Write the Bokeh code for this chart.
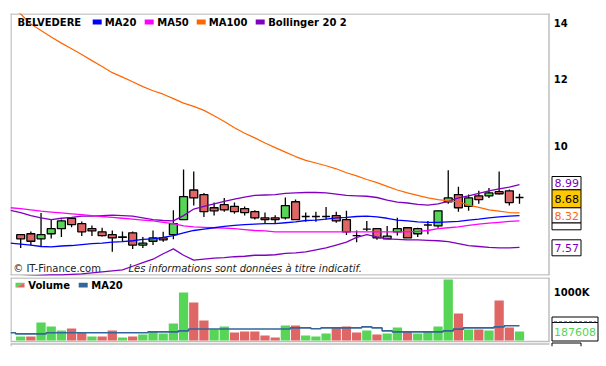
from bokeh.plotting import figure
from bokeh.layouts import column
from bokeh.models import Range1d, LinearScale
from bokeh.core.properties import value
from bokeh.embed import file_html
from bokeh.resources import INLINE

# ---------------- data ----------------
TITLE = "BELVEDERE"
opens = [7.84, 7.86, 7.75, 7.86, 7.97, 8.20, 8.08, 7.97, 7.90, 7.84,
         7.79, 7.88, 7.62, 7.70, 7.77, 7.84, 8.17, 8.86, 8.75, 8.44,
         8.51, 8.47, 8.42, 8.35, 8.21, 8.21, 8.21, 8.58, 8.24, 8.24,
         8.24, 8.26, 8.17, 7.82, 7.96, 7.97, 7.75, 7.90, 7.99, 7.86,
         8.05, 8.03, 8.58, 8.75, 8.47, 8.72, 8.72, 8.82, 8.84, 8.68]
highs = [7.85, 7.91, 8.32, 8.17, 8.17, 8.21, 8.13, 8.04, 7.99, 7.93,
         7.91, 7.91, 7.79, 7.93, 7.90, 8.38, 9.37, 9.32, 8.79, 8.56,
         8.67, 8.56, 8.47, 8.38, 8.33, 8.27, 8.68, 8.63, 8.33, 8.35,
         8.46, 8.35, 8.37, 7.93, 8.14, 7.97, 8.03, 8.21, 7.99, 7.99,
         8.14, 8.37, 9.35, 8.94, 8.75, 8.84, 8.91, 9.32, 8.87, 8.77]
lows = [7.56, 7.61, 7.58, 7.76, 7.79, 8.00, 7.81, 7.81, 7.80, 7.48,
        7.69, 7.54, 7.56, 7.62, 7.69, 7.74, 8.17, 8.49, 8.23, 8.26,
        8.35, 8.30, 8.26, 8.17, 8.08, 8.08, 8.17, 8.17, 8.12, 8.12,
        8.17, 8.10, 7.83, 7.68, 7.92, 7.73, 7.75, 7.82, 7.77, 7.79,
        7.85, 7.99, 8.53, 8.35, 8.37, 8.53, 8.67, 8.75, 8.49, 8.53]
closes = [7.75, 7.70, 7.84, 7.97, 8.14, 8.06, 7.90, 7.92, 7.82, 7.77,
          7.78, 7.62, 7.66, 7.77, 7.73, 8.08, 8.70, 8.67, 8.35, 8.37,
          8.39, 8.35, 8.33, 8.21, 8.17, 8.17, 8.49, 8.17, 8.24, 8.24,
          8.24, 8.14, 7.90, 7.82, 7.96, 7.77, 7.81, 7.97, 7.77, 7.97,
          8.05, 8.37, 8.67, 8.44, 8.67, 8.63, 8.79, 8.77, 8.56, 8.68]

# indicator series start one session before the first visible candle
ma20 = [7.66, 7.64, 7.62, 7.59, 7.58, 7.60, 7.61, 7.63, 7.65, 7.66,
        7.68, 7.69, 7.71, 7.74, 7.75, 7.78, 7.82, 7.88, 7.93, 7.96,
        7.99, 8.02, 8.04, 8.06, 8.07, 8.08, 8.08, 8.10, 8.12, 8.15,
        8.16, 8.18, 8.21, 8.22, 8.24, 8.25, 8.23, 8.20, 8.16, 8.14,
        8.12, 8.11, 8.11, 8.12, 8.13, 8.16, 8.18, 8.21, 8.23, 8.25, 8.26]
ma50 = [8.44, 8.42, 8.39, 8.36, 8.34, 8.32, 8.30, 8.28, 8.26, 8.24,
        8.22, 8.20, 8.18, 8.16, 8.14, 8.11, 8.08, 8.03, 8.01, 8.00,
        7.99, 7.98, 7.97, 7.95, 7.93, 7.92, 7.90, 7.90, 7.90, 7.90,
        7.90, 7.90, 7.90, 7.90, 7.90, 7.90, 7.90, 7.90, 7.90, 7.90,
        7.91, 7.93, 7.97, 7.99, 8.01, 8.04, 8.07, 8.09, 8.11, 8.13, 8.14]
ma100 = [14.61, 14.35, 13.96, 13.72, 13.47, 13.25, 13.05, 12.84, 12.63, 12.43,
         12.22, 12.07, 11.92, 11.76, 11.63, 11.52, 11.38, 11.24, 11.14, 11.02,
         10.86, 10.69, 10.51, 10.35, 10.22, 10.08, 9.95, 9.83, 9.71, 9.61,
         9.54, 9.47, 9.39, 9.29, 9.21, 9.12, 9.04, 8.95, 8.86, 8.79,
         8.73, 8.67, 8.63, 8.60, 8.58, 8.50, 8.45, 8.39, 8.36, 8.33, 8.32]
boll_up = [8.38, 8.33, 8.26, 8.21, 8.17, 8.20, 8.22, 8.25, 8.25, 8.26,
           8.27, 8.26, 8.25, 8.21, 8.17, 8.15, 8.14, 8.26, 8.41, 8.47,
           8.53, 8.59, 8.64, 8.69, 8.73, 8.74, 8.75, 8.78, 8.79, 8.80,
           8.80, 8.79, 8.76, 8.73, 8.72, 8.71, 8.68, 8.62, 8.57, 8.55,
           8.52, 8.50, 8.53, 8.59, 8.67, 8.72, 8.78, 8.84, 8.89, 8.93, 8.99]
boll_lo = [6.98, 6.99, 7.00, 7.01, 7.02, 7.02, 7.03, 7.04, 7.06, 7.08,
           7.10, 7.12, 7.19, 7.26, 7.33, 7.44, 7.54, 7.41, 7.31, 7.33,
           7.35, 7.36, 7.38, 7.39, 7.41, 7.41, 7.42, 7.45, 7.46, 7.48,
           7.52, 7.56, 7.62, 7.68, 7.78, 7.84, 7.79, 7.75, 7.74, 7.73,
           7.73, 7.72, 7.71, 7.69, 7.65, 7.61, 7.59, 7.57, 7.56, 7.56, 7.57]

volumes = [82800, 82800, 372700, 290000, 207000, 248000, 159000, 82800, 82800, 207000,
           62000, 82800, 124000, 179000, 145000, 352000, 994000, 787000, 414000, 228000,
           290000, 166000, 186000, 186000, 104000, 62000, 311000, 311000, 104000, 82800,
           145000, 269000, 290000, 166000, 207000, 124000, 145000, 269000, 186000, 145000,
           186000, 290000, 1263000, 559000, 228000, 228000, 207000, 828000, 269000, 187608]
vol_up = [1, 0, 1, 1, 1, 0, 0, 1, 0, 0,
          1, 0, 1, 1, 1, 1, 1, 0, 0, 1,
          1, 0, 0, 0, 0, 0, 1, 0, 1, 1,
          1, 0, 0, 0, 1, 0, 1, 1, 0, 1,
          1, 1, 1, 0, 1, 0, 1, 0, 0, 1]
vol_ma20 = [159000, 138000, 138000, 138000, 159000, 159000, 159000, 159000, 159000, 159000,
            159000, 159000, 159000, 159000, 179000, 179000, 179000, 200000, 238000, 238000,
            238000, 238000, 238000, 238000, 238000, 238000, 238000, 238000, 262000, 262000,
            242000, 262000, 262000, 262000, 262000, 283000, 262000, 200000, 179000, 179000,
            179000, 179000, 179000, 200000, 235000, 262000, 262000, 262000, 283000, 304000, 304000]

price_ticks = [10, 12, 14]
vol_ticks = [1000000]
vol_tick_labels = ["1000K"]
legend_names = ["MA20", "MA50", "MA100", "Bollinger 20 2"]

# ---------------- styling ----------------
GREEN = "#56D556"
RED = "#E06666"
C_MA20 = "#0000FF"
C_MA50 = "#FF00FF"
C_MA100 = "#FF6600"
C_BOLL = "#8000C0"
C_VMA = "#336699"
FRAME = "#BEBEBE"
FONT = value("DejaVu Sans")

N = len(closes)
idx = list(range(N))
lidx = list(range(-1, N))

W = 606
XR = Range1d(-1.0, -1.0 + (W - 10) / 10.18)

# ---------------- price panel ----------------
p1 = figure(width=W, height=276, x_range=XR, y_range=Range1d(7.01, 14.37),
            y_axis_type="log", x_axis_location=None, y_axis_location=None,
            toolbar_location=None, output_backend="svg", title=None,
            min_border_left=10, min_border_right=0, min_border_top=13, min_border_bottom=1)
p1.outline_line_color = None
p1.grid.visible = False
p1.background_fill_color = "white"
p1.border_fill_color = "white"
p1.extra_x_ranges = {"px": Range1d(10, W)}
p1.extra_x_scales = {"px": LinearScale()}
p1.extra_y_ranges = {"py": Range1d(275, 13)}
p1.extra_y_scales = {"py": LinearScale()}

px = dict(x_range_name="px", y_range_name="py")

# frame
p1.segment(x0=[10, 10.5, 548.5, 10], y0=[13.5, 13, 13, 274.5],
           x1=[549, 10.5, 548.5, 549], y1=[13.5, 275, 275, 274.5],
           line_color=FRAME, line_width=1.5, **px)

# candles
tops = [max(o, c) for o, c in zip(opens, closes)]
bots = [min(o, c) for o, c in zip(opens, closes)]
bcol = [GREEN if c > o else (RED if c < o else "black") for o, c in zip(opens, closes)]
p1.segment(x0=idx, y0=highs, x1=idx, y1=lows, line_color="black", line_width=1.3)
p1.vbar(x=idx, width=0.78, top=tops, bottom=bots, fill_color=bcol,
        line_color="black", line_width=1.3)

# indicators
p1.line(lidx, boll_up, line_color=C_BOLL, line_width=1.3)
p1.line(lidx, boll_lo, line_color=C_BOLL, line_width=1.3)
p1.line(lidx, ma100, line_color=C_MA100, line_width=1.2)
p1.line(lidx, ma50, line_color=C_MA50, line_width=1.3)
p1.line(lidx, ma20, line_color=C_MA20, line_width=1.3)

# legend
p1.text(x=[17], y=[21.7], text=[TITLE], text_font=FONT, text_font_size="10px",
        text_font_style="bold", text_baseline="middle", text_align="left",
        text_color="black", **px)
sq_x = [96.7, 148.7, 200.7, 259.7]
tx_x = [104.3, 156.7, 208.3, 267.7]
p1.rect(x=sq_x, y=[21.5] * 4, width=9, height=5,
        fill_color=[C_MA20, C_MA50, C_MA100, C_BOLL], line_color=None, **px)
p1.text(x=tx_x, y=[21.7] * 4, text=legend_names, text_font=FONT, text_font_size="10px",
        text_font_style="bold", text_baseline="middle", text_align="left",
        text_color="black", **px)

# copyright
p1.text(x=[12.7], y=[268.3], text=["\u00a9 IT-Finance.com"], text_font=FONT,
        text_font_size="10px", text_baseline="middle", text_align="left",
        text_color="#222222", **px)
p1.text(x=[128], y=[268.3], text=["Les informations sont données à titre indicatif."],
        text_font=FONT, text_font_size="10px", text_font_style="italic",
        text_baseline="middle", text_align="left", text_color="#222222", **px)

# right-hand tick labels
p1.text(x=[553.3] * len(price_ticks), y=price_ticks, text=[str(t) for t in price_ticks],
        text_font=FONT, text_font_size="10px", text_font_style="bold",
        text_baseline="middle", text_align="left", text_color="black",
        x_range_name="px")

# last-value boxes
box_l, box_r = 551.5, 580.5
box_t = [176, 189.3, 207.3, 222.5, 239.3]
box_b = [189.3, 207.3, 222.5, 229.3, 255.3]
box_fill = ["white", "#FFC800", "white", "white", "white"]
p1.quad(left=[box_l] * 5, right=[box_r] * 5, top=box_t, bottom=box_b,
        fill_color=box_fill, line_color="black", line_width=1, **px)
lab_txt = [f"{boll_up[-1]:.2f}", f"{closes[-1]:.2f}", f"{ma100[-1]:.2f}", f"{boll_lo[-1]:.2f}"]
lab_y = [182.8, 198.4, 215.0, 247.4]
lab_col = [C_BOLL, "black", C_MA100, C_BOLL]
p1.text(x=[566.2] * 4, y=lab_y, text=lab_txt, text_color=lab_col, text_font=FONT,
        text_font_size="11px", text_baseline="middle", text_align="center", **px)

# ---------------- volume panel ----------------
p2 = figure(width=W, height=88, x_range=XR, y_range=Range1d(-124220, 1304350),
            x_axis_location=None, y_axis_location=None,
            toolbar_location=None, output_backend="svg", title=None,
            min_border_left=10, min_border_right=0, min_border_top=1, min_border_bottom=18)
p2.outline_line_color = None
p2.grid.visible = False
p2.background_fill_color = "white"
p2.border_fill_color = "white"
p2.extra_x_ranges = {"px": Range1d(10, W)}
p2.extra_x_scales = {"px": LinearScale()}
p2.extra_y_ranges = {"py": Range1d(346, 277)}
p2.extra_y_scales = {"py": LinearScale()}

p2.segment(x0=[10, 10.5, 548.5, 10, 10, 10.5], y0=[277.5, 277, 277, 341, 343.5, 343],
           x1=[549, 10.5, 548.5, 549, 549, 10.5], y1=[277.5, 341.5, 341.5, 341, 343.5, 346],
           line_color=FRAME, line_width=1.5, **px)

vcol = [GREEN if u else RED for u in vol_up]
p2.vbar(x=idx, width=0.91, top=volumes, bottom=0, fill_color=vcol, line_color=None)
p2.step(lidx, vol_ma20, mode="center", line_color=C_VMA, line_width=1.6)

# legend
p2.patches(xs=[[15, 24, 15], [24, 24, 15]], ys=[[282.3, 282.3, 286.9], [282.3, 286.9, 286.9]],
           fill_color=[GREEN, RED], line_color=None, **px)
p2.text(x=[27.7], y=[285], text=["Volume"], text_font=FONT, text_font_size="10px",
        text_font_style="bold", text_baseline="middle", text_align="left",
        text_color="black", **px)
p2.rect(x=[82.7], y=[284.6], width=9, height=4.6, fill_color=C_VMA, line_color=None, **px)
p2.text(x=[90.7], y=[285], text=["MA20"], text_font=FONT, text_font_size="10px",
        text_font_style="bold", text_baseline="middle", text_align="left",
        text_color="black", **px)

# right-hand tick label
p2.text(x=[553.3], y=vol_ticks, text=vol_tick_labels, text_font=FONT, text_font_size="10px",
        text_font_style="bold", text_baseline="middle", text_align="left",
        text_color="black", x_range_name="px")

# last-value boxes
p2.quad(left=[551.5, 551.5], right=[597.5, 597.5], top=[316.5, 322], bottom=[322, 340.5],
        fill_color="white", line_color="black", line_width=1, **px)
p2.segment(x0=[553.5], y0=[321.3], x1=[595.5], y1=[321.3], line_color=C_VMA,
           line_width=1, line_dash="3 2", **px)
p2.text(x=[574.5], y=[331.3], text=[str(volumes[-1])], text_color=GREEN, text_font=FONT,
        text_font_size="11px", text_baseline="middle", text_align="center", **px)
p2.segment(x0=[551.5, 551.5, 580.5], y0=[342.5, 342.5, 342.5], x1=[580.5, 551.5, 580.5],
           y1=[342.5, 346, 346], line_color="black", line_width=1, **px)

layout = column(p1, p2)
open("out.html", "w").write(file_html(layout, INLINE))
